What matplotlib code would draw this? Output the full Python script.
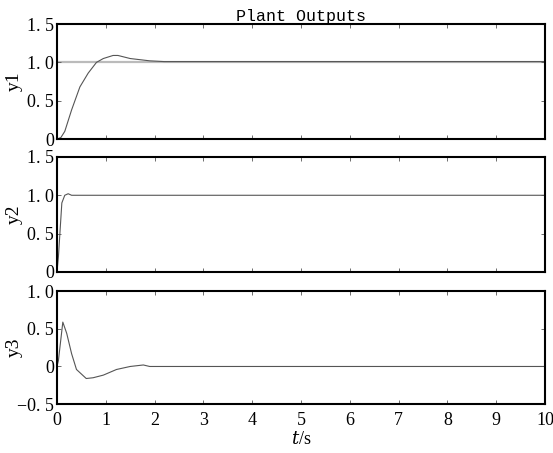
import matplotlib
matplotlib.use("Agg")
import matplotlib.pyplot as plt

# step responses
t1 = [0, 0.08, 0.16, 0.3, 0.47, 0.64, 0.81, 0.95, 1.15, 1.25, 1.5, 1.9, 2.2, 10]
y1 = [0, 0.02, 0.1, 0.38, 0.68, 0.86, 1.0, 1.05, 1.09, 1.09, 1.05, 1.02, 1.01, 1.01]

t2 = [0, 0.03, 0.06, 0.1, 0.16, 0.23, 0.3, 10]
y2 = [0, 0.2, 0.5, 0.9, 1.0, 1.02, 1.0, 1.0]

t3 = [0, 0.03, 0.12, 0.2, 0.3, 0.4, 0.6, 0.74, 0.95, 1.22, 1.5, 1.77, 1.9, 10]
y3 = [0, 0.08, 0.59, 0.44, 0.17, -0.04, -0.16, -0.15, -0.115, -0.04, 0.0, 0.02, 0.0, 0.0]

xticks = list(range(11))
yticks_12 = [0, 0.5, 1.0, 1.5]
ylabels_12 = ["0", "0. 5", "1. 0", "1. 5"]
yticks_3 = [-0.5, 0, 0.5, 1.0]
ylabels_3 = ["\u22120. 5", "0", "0. 5", "1. 0"]

plt.rcParams["font.family"] = ["serif"]
plt.rcParams["font.serif"] = ["Liberation Serif", "DejaVu Serif"]
plt.rcParams["mathtext.fontset"] = "dejavuserif"

fig = plt.figure(figsize=(5.53, 4.53), dpi=100)
left, width = 0.103, 0.8825
ax1 = fig.add_axes([left, 0.693, width, 0.254])
ax2 = fig.add_axes([left, 0.3996, width, 0.254])
ax3 = fig.add_axes([left, 0.108, width, 0.249])

panels = [
    (ax1, t1, y1, "y1", (0, 1.5), yticks_12, ylabels_12),
    (ax2, t2, y2, "y2", (0, 1.5), yticks_12, ylabels_12),
    (ax3, t3, y3, "y3", (-0.5, 1.0), yticks_3, ylabels_3),
]
for ax, t, y, name, ylim, yt, yl in panels:
    if ax is ax1:
        ax.axhline(1.0, color="#bbbbbb", lw=1.6, zorder=1)
    ax.plot(t, y, color="#555555", lw=0.8, zorder=2)
    ax.set_xlim(0, 10)
    ax.set_ylim(*ylim)
    ax.set_xticks(xticks)
    ax.set_yticks(yt)
    ax.set_yticklabels(yl)
    ax.set_ylabel(name, fontsize=14)
    ax.yaxis.set_label_coords(-0.07, 0.5)
    ax.tick_params(direction="in", top=True, right=True, length=3,
                   width=0.6, labelsize=13, color="#555555")
    ax.tick_params(axis="y", pad=2)
    ax.tick_params(axis="x", pad=6)
    for s in ax.spines.values():
        s.set_linewidth(1.5)
    if ax is not ax3:
        ax.set_xticklabels([])

ax3.set_xticklabels([str(v) for v in xticks])
ax3.set_xlabel("$t$/s", fontsize=13, labelpad=1)
ax1.set_title("Plant Outputs", family=["Liberation Mono", "DejaVu Sans Mono"],
              fontsize=12, pad=2)

fig.savefig("out.png", dpi=100)
